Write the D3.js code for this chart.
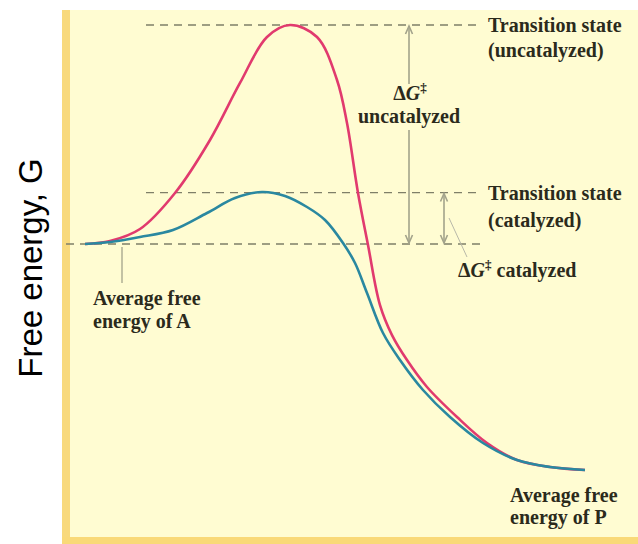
<!DOCTYPE html>
<html>
<head>
<meta charset="utf-8">
<script src="https://cdn.jsdelivr.net/npm/d3@7/dist/d3.min.js"></script>
<style>
  html, body { margin: 0; padding: 0; background: #ffffff; }
  svg { display: block; }
</style>
</head>
<body>
<svg id="chart" width="638" height="544"></svg>
<script>
// Reaction coordinate (0 = A, 100 = P) and free energy G (A = 0, uncatalyzed TS = 100)
const uncatX = [0, 5, 11, 18, 25, 31, 36.4, 41, 46.4, 50.4, 52.4, 54.6, 56.6, 59, 61.4, 64.4, 68.4, 74.4, 80.4, 86.4, 93, 100];
const uncatG = [0, 1.37, 6.85, 23.29, 47.49, 73.52, 94.52, 100, 94.52, 74.89, 55.25, 23.29, -0.46, -27.9, -41.6, -53.0, -65.3, -79.0, -90.9, -98.6, -101.8, -103.2];
const catX = [0, 5, 11, 17.6, 24.4, 30, 35.4, 40, 44.4, 48, 51.6, 54, 56.4, 59.6, 63, 67.6, 73, 79.6, 86.4, 93, 100];
const catG = [0, 0.91, 3.2, 6.39, 14.16, 21.0, 23.74, 21.92, 16.89, 10.96, 0.46, -8.68, -22.37, -40.64, -52.97, -66.67, -79.0, -90.87, -98.63, -101.83, -103.2];
const levelA = 0, levelTSuncat = 100, levelTScat = 23.5, levelP = -103.2;

const svg = d3.select("#chart");
const W = 638, H = 544;

const x = d3.scaleLinear().domain([0, 100]).range([85, 585]);
const y = d3.scaleLinear().domain([0, 100]).range([244, 25]);

const bg = "#fffcd2";
const textCol = "#2b2a1c";
const grayLine = "#a3a38b";
const dashCol = "#7f7f68";

// panel
svg.append("rect").attr("x", 62).attr("y", 10).attr("width", W - 62).attr("height", H - 10).attr("fill", bg);
svg.append("rect").attr("x", 62).attr("y", 10).attr("width", 8).attr("height", H - 10).attr("fill", "#f8d97c");
svg.append("rect").attr("x", 62).attr("y", 537).attr("width", W - 62).attr("height", 7).attr("fill", "#f9d978");

// dashed levels
const dash = (x1, x2, g) => svg.append("line")
  .attr("x1", x1).attr("x2", x2).attr("y1", y(g)).attr("y2", y(g))
  .attr("stroke", dashCol).attr("stroke-width", 1.3).attr("stroke-dasharray", "8,6");
dash(146, 482, levelTSuncat);
dash(146, 482, levelTScat);
dash(66, 486, levelA);

// arrows
function arrow(xp, g1, g2) {
  const y1 = y(g1), y2 = y(g2);
  const g = svg.append("g").attr("stroke", grayLine).attr("stroke-width", 1.6).attr("fill", "none");
  g.append("line").attr("x1", xp).attr("x2", xp).attr("y1", y1 + 1).attr("y2", y2 - 1);
  g.append("path").attr("d", `M${xp - 3.5},${y1 + 9} L${xp},${y1 + 1} L${xp + 3.5},${y1 + 9}`);
  g.append("path").attr("d", `M${xp - 3.5},${y2 - 9} L${xp},${y2 - 1} L${xp + 3.5},${y2 - 9}`);
}
arrow(409, levelTSuncat, levelA);
arrow(444, levelTScat, levelA);

// leader lines
svg.append("line").attr("x1", 449).attr("y1", 218).attr("x2", 467).attr("y2", 257)
  .attr("stroke", "#b8b8a8").attr("stroke-width", 1);
svg.append("line").attr("x1", 122).attr("y1", 247).attr("x2", 122).attr("y2", 283)
  .attr("stroke", grayLine).attr("stroke-width", 1.3);

// curves
const line = d3.line().x(d => x(d[0])).y(d => y(d[1])).curve(d3.curveCatmullRom.alpha(0.5));
svg.append("path").datum(uncatX.map((v, i) => [v, uncatG[i]]))
  .attr("d", line).attr("fill", "none").attr("stroke", "#e13a6e").attr("stroke-width", 2.6);
svg.append("path").datum(catX.map((v, i) => [v, catG[i]]))
  .attr("d", line).attr("fill", "none").attr("stroke", "#2a88a0").attr("stroke-width", 2.6);

// label background behind ΔG‡ uncatalyzed
svg.append("rect").attr("x", 400).attr("y", 84).attr("width", 20).attr("height", 46).attr("fill", bg);

const font = "'Liberation Serif', 'DejaVu Serif', serif";
function label(txt, xp, yp, anchor) {
  return svg.append("text").attr("x", xp).attr("y", yp)
    .attr("text-anchor", anchor || "start")
    .attr("font-family", font).attr("font-weight", "bold").attr("font-size", 20)
    .attr("fill", textCol).text(txt);
}
label("Transition state", 488, 32);
label("(uncatalyzed)", 488, 57);
label("Transition state", 488, 200);
label("(catalyzed)", 488, 227);
label("Average free", 93, 305);
label("energy of A", 93, 328);
label("Average free", 510, 502);
label("energy of P", 510, 524);

function deltaG(xp, yp, anchor, rest) {
  const t = svg.append("text").attr("x", xp).attr("y", yp).attr("text-anchor", anchor)
    .attr("font-family", font).attr("font-weight", "bold").attr("font-size", 20).attr("fill", textCol);
  t.append("tspan").text("Δ");
  t.append("tspan").attr("font-style", "italic").text("G");
  t.append("tspan").attr("font-size", 13).attr("dy", -8).text("‡");
  if (rest) t.append("tspan").attr("dy", 8).text(" " + rest);
  return t;
}
deltaG(410, 100, "middle");
label("uncatalyzed", 409, 123, "middle");
deltaG(458, 277, "start", "catalyzed");

// axis title
svg.append("text")
  .attr("transform", "translate(42,268) rotate(-90)")
  .attr("text-anchor", "middle")
  .attr("font-family", "'Liberation Sans', Arial, sans-serif")
  .attr("font-size", 33).attr("fill", "#000")
  .text("Free energy, G");
</script>
</body>
</html>
